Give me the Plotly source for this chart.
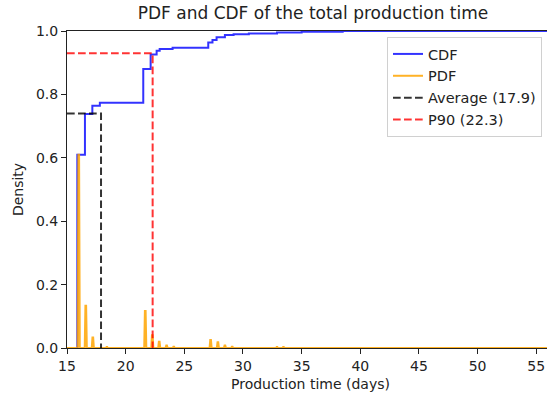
import plotly.graph_objects as go

# ---- data ----
cdf_x = [15.88, 15.88, 16.53, 17.16, 17.8, 21.5, 22.13, 22.64, 22.9, 24.0, 27.04, 27.4, 27.75, 28.46, 29.2, 30.5, 32.9, 35.0, 38.5, 58.3]
cdf_y = [0.0, 0.61, 0.738, 0.764, 0.774, 0.88, 0.926, 0.938, 0.943, 0.947, 0.964, 0.972, 0.98, 0.987, 0.99, 0.992, 0.995, 0.998, 1.0, 1.0]

pdf_peaks_x = [16.0, 16.6, 17.2, 18.4, 21.67, 22.27, 22.86, 23.49, 24.1, 27.24, 27.86, 28.46, 29.08, 32.9, 33.45, 34.05, 38.5]
pdf_peaks_y = [0.61, 0.133, 0.033, 0.003, 0.117, 0.04, 0.02, 0.008, 0.004, 0.025, 0.018, 0.008, 0.004, 0.003, 0.003, 0.002, 0.001]

# the reference is a crop of a wider figure: axis runs 15 .. ~58.3, window shows up to ~56
x_min, x_max = 15, 58.3
average_value, average_cdf = 17.9, 0.74
p90_value, p90_cdf = 22.3, 0.93

x_ticks = [15, 20, 25, 30, 35, 40, 45, 50, 55]
y_ticks = [0.0, 0.2, 0.4, 0.6, 0.8, 1.0]

# build PDF polyline from peak values (narrow spikes on a zero baseline)
half_w = 0.09
pdf_x = [x_min]
pdf_y = [0.0]
for px, py in zip(pdf_peaks_x, pdf_peaks_y):
    pdf_x += [px - half_w, px - half_w / 3, px + half_w / 3, px + half_w]
    pdf_y += [0.0, py, py, 0.0]
pdf_x.append(x_max)
pdf_y.append(0.0)

FONT = "DejaVu Sans"
dash = "7.7px,3.3px"

fig = go.Figure()
fig.add_trace(go.Scatter(x=cdf_x, y=cdf_y, mode="lines", name="CDF",
                         line=dict(color="rgba(0,0,255,0.8)", width=2, shape="hv")))
fig.add_trace(go.Scatter(x=pdf_x, y=pdf_y, mode="lines", name="PDF",
                         line=dict(color="rgba(255,165,0,0.85)", width=2)))
fig.add_trace(go.Scatter(x=[x_min, average_value, average_value], y=[average_cdf, average_cdf, 0],
                         mode="lines", name=f"Average ({average_value})",
                         line=dict(color="rgba(0,0,0,0.8)", width=2, dash=dash)))
fig.add_trace(go.Scatter(x=[x_min, p90_value, p90_value], y=[p90_cdf, p90_cdf, 0],
                         mode="lines", name=f"P90 ({p90_value})",
                         line=dict(color="rgba(255,0,0,0.8)", width=2, dash=dash)))

W, H = 575, 394          # wider than the 547px window; right part is cropped like the reference
ml, mr, mt, mb = 67, 0, 31, 394 - 348
pw = W - ml - mr
ph = H - mt - mb

def px_x(xw):  # window x -> paper x
    return (xw - ml) / pw

def px_y(yw):  # window y -> paper y
    return 1 - (yw - mt) / ph

fig.update_layout(
    width=W, height=H,
    margin=dict(l=ml, r=mr, t=mt, b=mb),
    paper_bgcolor="white", plot_bgcolor="white",
    font=dict(family=FONT, size=14, color="#222"),
    title=dict(text="PDF and CDF of the total production time",
               x=px_x(313), xref="paper", xanchor="center",
               y=1 - 13 / H, yref="container", yanchor="middle",
               font=dict(family=FONT, size=17, color="#222")),
    showlegend=True,
    legend=dict(x=px_x(387), y=px_y(37), xanchor="left", yanchor="top",
                bgcolor="white", bordercolor="#d0d0d0", borderwidth=1,
                font=dict(family=FONT, size=14.5, color="#222"),
                itemwidth=30, tracegroupgap=0),
    xaxis=dict(range=[x_min, x_max], tickvals=x_ticks, ticks="outside", ticklen=5, tickwidth=1.1,
               tickcolor="#222", showline=True, linecolor="#222", linewidth=1.1, mirror=True,
               showgrid=False, zeroline=False, layer="below traces"),
    yaxis=dict(range=[0, 1], tickvals=y_ticks, tickformat=".1f", ticks="outside", ticklen=5, tickwidth=1.1,
               tickcolor="#222", showline=True, linecolor="#222", linewidth=1.1,
               showgrid=False, zeroline=False,
               title=dict(text="Density", standoff=8, font=dict(size=14))),
    annotations=[dict(text="Production time (days)", x=px_x(310.5), y=px_y(384),
                      xref="paper", yref="paper", xanchor="center", yanchor="middle",
                      showarrow=False, font=dict(family=FONT, size=14, color="#222"))],
)

fig.write_html("out.html", config={"displayModeBar": False},
               post_script="document.body.style.margin='0';document.body.style.overflow='hidden';")
